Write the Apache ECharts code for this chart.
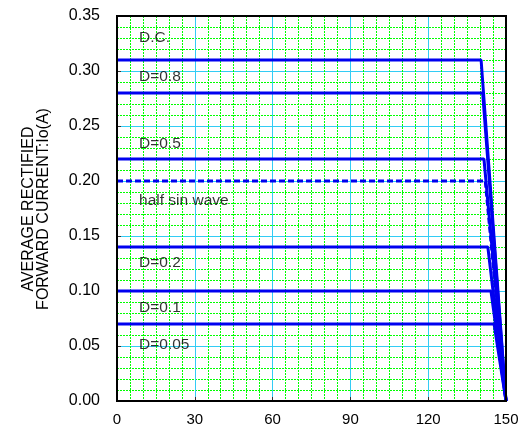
<!DOCTYPE html>
<html>
<head>
<meta charset="utf-8">
<script src="https://cdn.jsdelivr.net/npm/echarts@6/dist/echarts.min.js"></script>
<style>
html,body{margin:0;padding:0;background:#fff;}
#chart{width:523px;height:432px;}
</style>
</head>
<body>
<div id="chart"></div>
<script>
// ---- data ----
const xTickLabels = [0, 30, 60, 90, 120, 150];
const seriesNames = ['D.C.', 'D=0.8', 'D=0.5', 'half sin wave', 'D=0.2', 'D=0.1', 'D=0.05'];
const flatCurrents = [0.31, 0.28, 0.22, 0.20, 0.14, 0.10, 0.07];
const kneeTemps = [140.4, 141, 141.5, 142, 143, 144.2, 145.4];
const startTemp = 0;
const zeroTemp = 150;
const dashed = [false, false, false, true, false, false, false];
const labelX = [8.3, 8.3, 8.3, 8.3, 8.3, 8.3, 8.3];
const labelY = [0.330, 0.295, 0.234, 0.182, 0.1255, 0.0852, 0.0515];

const FONT = 'Liberation Sans, Arial, Helvetica, sans-serif';
const BLUE = '#0000f0';

const chart = echarts.init(document.getElementById('chart'), null, {renderer: 'canvas'});

const lineSeries = seriesNames.map((n, i) => ({
  name: n,
  type: 'line',
  symbol: 'none',
  silent: true,
  z: 3,
  data: [[startTemp, flatCurrents[i]], [kneeTemps[i], flatCurrents[i]], [zeroTemp, 0]],
  lineStyle: {color: BLUE, width: 3, type: dashed[i] ? [6, 3] : 'solid'}
}));

const labelSeries = {
  type: 'scatter',
  symbolSize: 1,
  itemStyle: {color: 'rgba(0,0,0,0)'},
  silent: true,
  z: 4,
  data: seriesNames.map((n, i) => ({value: [labelX[i], labelY[i]], name: n})),
  label: {
    show: true,
    position: 'right',
    distance: 0,
    formatter: p => p.name,
    color: '#000',
    fontFamily: FONT,
    fontSize: 15.5
  },
  labelLayout: {hideOverlap: false}
};

chart.setOption({
  animation: false,
  backgroundColor: '#fff',
  grid: {left: 117, top: 16, right: 17, bottom: 31, show: true, borderColor: '#000', borderWidth: 2, backgroundColor: 'transparent', z: 5},
  xAxis: {
    type: 'value', min: 0, max: 150, interval: 30,
    axisLine: {show: true, lineStyle: {color: '#000', width: 2}},
    axisTick: {show: true, inside: true, length: 4, lineStyle: {color: '#333'}},
    axisLabel: {color: '#000', fontFamily: FONT, fontSize: 15, margin: 11, formatter: v => xTickLabels.includes(v) ? String(v) : ''},
    splitLine: {show: true, lineStyle: {color: '#33ccf5', width: 1}},
    minorTick: {show: false, splitNumber: 6},
    minorSplitLine: {show: true, lineStyle: {color: '#00ff00', width: 1, type: [2, 1]}}
  },
  yAxis: {
    type: 'value', min: 0, max: 0.35, interval: 0.05,
    axisLine: {show: true, lineStyle: {color: '#000', width: 2}},
    axisTick: {show: true, inside: true, length: 4, lineStyle: {color: '#333'}},
    axisLabel: {color: '#000', fontFamily: FONT, fontSize: 16, margin: 17, formatter: v => v.toFixed(2)},
    splitLine: {show: true, lineStyle: {color: '#33ccf5', width: 1}},
    minorTick: {show: false, splitNumber: 5},
    minorSplitLine: {show: true, lineStyle: {color: '#00ff00', width: 1, type: [2, 1]}}
  },
  graphic: [{
    type: 'text',
    x: 36, y: 209,
    rotation: Math.PI / 2,
    style: {
      text: 'AVERAGE RECTIFIED\nFORWARD CURRENT:Io(A)',
      fill: '#000',
      font: '16px ' + FONT,
      align: 'center',
      verticalAlign: 'middle',
      lineHeight: 15
    }
  }],
  series: lineSeries.concat([labelSeries])
});
</script>
</body>
</html>
